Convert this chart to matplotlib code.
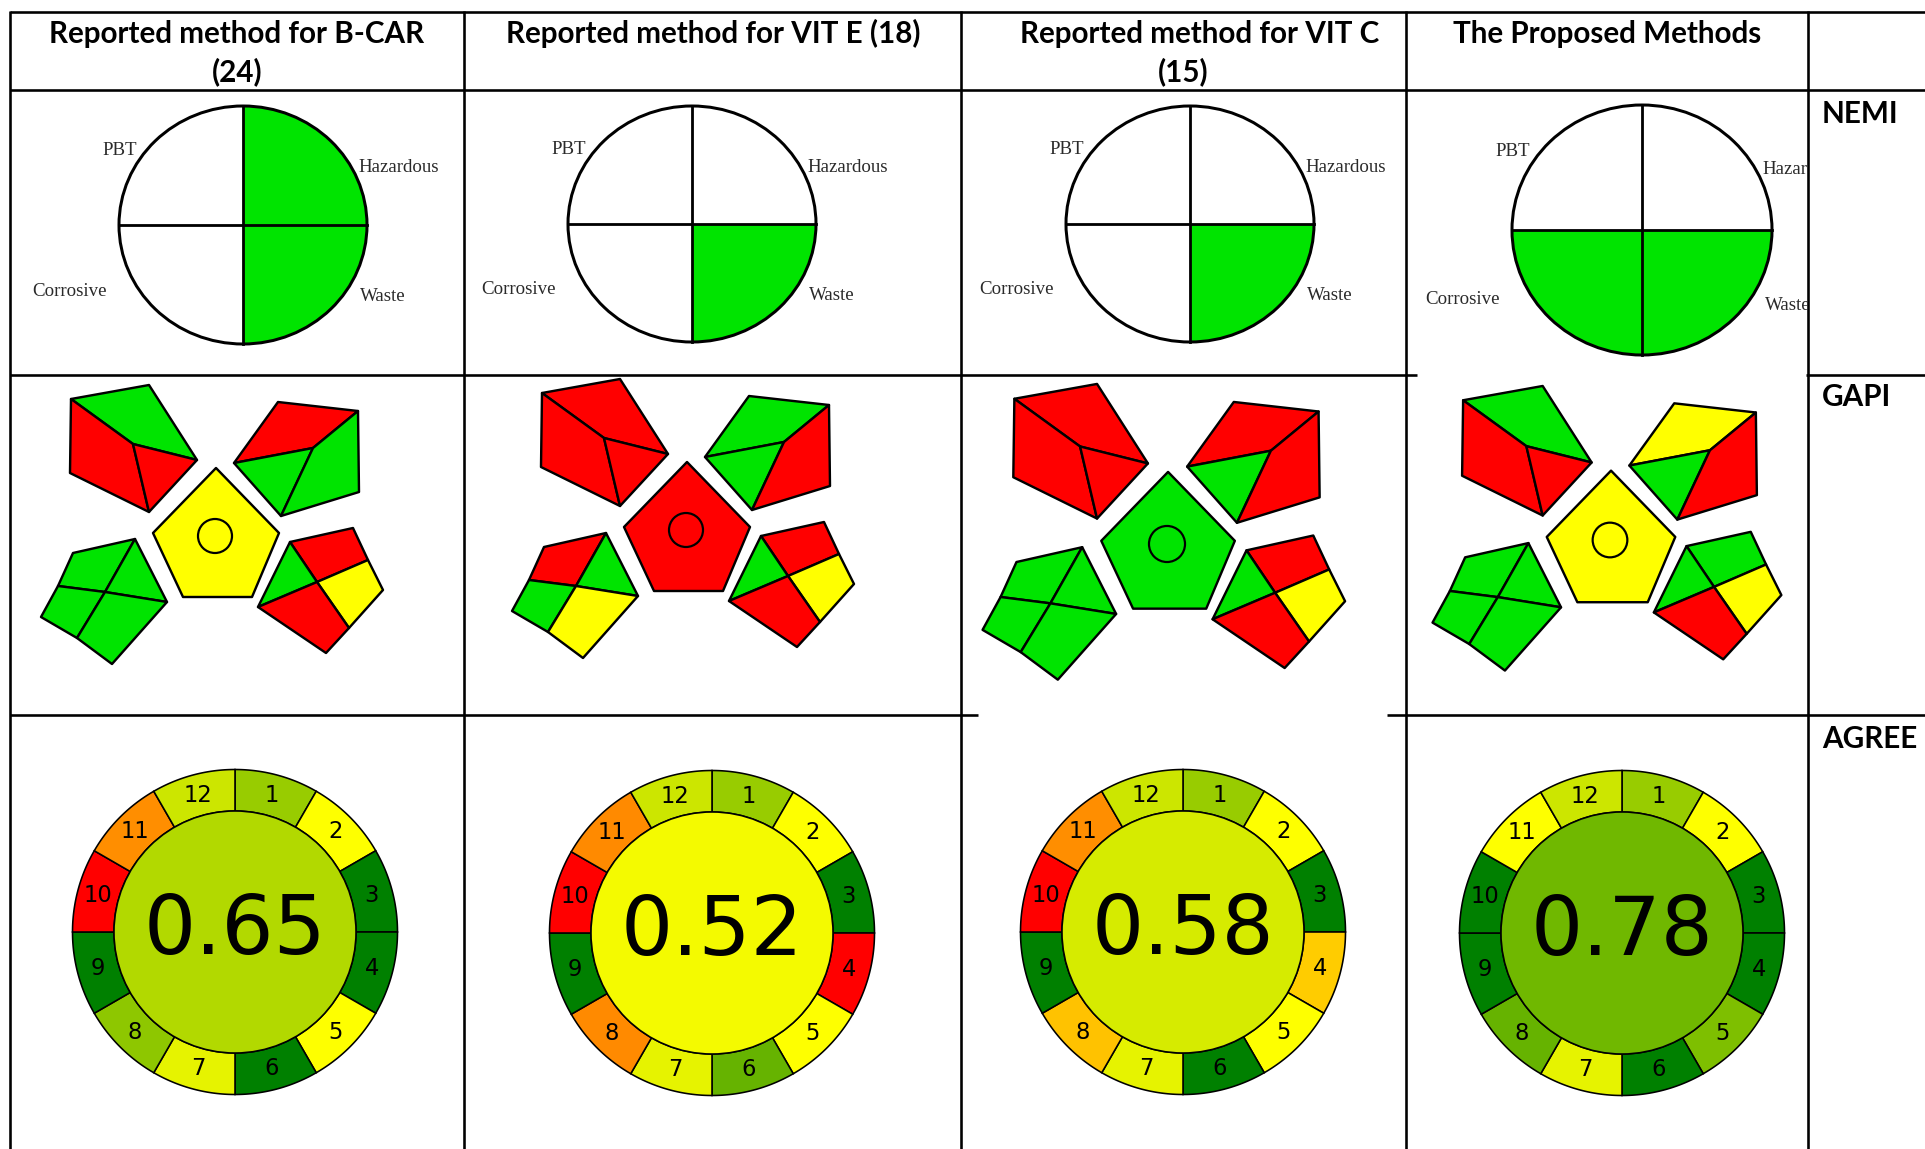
import numpy as np
import matplotlib
matplotlib.use("Agg")
import matplotlib.pyplot as plt
from matplotlib.patches import Polygon, Ellipse
from matplotlib.colors import LinearSegmentedColormap
from matplotlib.transforms import Bbox, TransformedBbox

# ---------------- data ----------------
header_line1 = ["Reported method for B-CAR", "Reported method for VIT E (18)",
                "Reported method for VIT C", "The Proposed Methods"]
header_line2 = ["(24)", "", "(15)", ""]
row_labels = ["NEMI", "GAPI", "AGREE"]

# NEMI quadrants: PBT (upper-left), Hazardous (upper-right), Corrosive (lower-left), Waste (lower-right)
nemi_quadrants = ["PBT", "Hazardous", "Corrosive", "Waste"]
nemi_green = [[0, 1, 0, 1],
              [0, 0, 0, 1],
              [0, 0, 0, 1],
              [0, 0, 1, 1]]

# GAPI field colours: G = green, Y = yellow, R = red
gapi_center = ["Y", "R", "G", "Y"]
gapi_upper_left = [["G", "R", "R"], ["R", "R", "R"], ["R", "R", "R"], ["G", "R", "R"]]
gapi_upper_right = [["R", "G", "G"], ["G", "G", "R"], ["R", "G", "R"], ["Y", "G", "R"]]
gapi_lower_left = [["G", "G", "G", "G"], ["R", "G", "G", "Y"], ["G", "G", "G", "G"], ["G", "G", "G", "G"]]
gapi_lower_right = [["R", "G", "Y", "R"], ["R", "G", "Y", "R"], ["R", "G", "Y", "R"], ["G", "G", "Y", "R"]]

# AGREE criterion scores (1..12) and overall scores
agree_scores = [
    [0.70, 0.50, 1.00, 1.00, 0.50, 1.00, 0.55, 0.72, 1.00, 0.00, 0.28, 0.60],
    [0.70, 0.50, 1.00, 0.00, 0.50, 0.80, 0.55, 0.27, 1.00, 0.00, 0.27, 0.60],
    [0.70, 0.50, 1.00, 0.40, 0.50, 1.00, 0.55, 0.38, 1.00, 0.00, 0.28, 0.60],
    [0.70, 0.50, 1.00, 1.00, 0.75, 1.00, 0.55, 0.80, 1.00, 1.00, 0.50, 0.60],
]
agree_totals = [0.65, 0.52, 0.58, 0.78]

# ---------------- styling ----------------
W, H = 1925, 1149
PX = 0.72  # points per pixel at dpi 100
GREEN = "#00e400"
GAPI_COL = {"G": "#00e400", "Y": "#ffff00", "R": "#ff0000"}
agree_cmap = LinearSegmentedColormap.from_list("agree", ["#ff0000", "#ffff00", "#008000"])
HEAD_FONT = dict(family="Lato", weight="bold", size=21.3)

fig = plt.figure(figsize=(W / 100, H / 100), dpi=100)
ax = fig.add_axes([0, 0, 1, 1])
ax.set_xlim(0, W)
ax.set_ylim(H, 0)
ax.axis("off")

col_edges = [10, 464, 961, 1406, 1808]
row_edges = [12, 90, 375, 715]

# ---------------- table grid ----------------
def hline(y, x0, x1, w=2.6):
    ax.plot([x0, x1], [y, y], color="black", lw=w * PX, solid_capstyle="butt")

def vline(x, y0, y1, w=2.6):
    ax.plot([x, x], [y0, y1], color="black", lw=w * PX, solid_capstyle="butt")

hline(12, 10, W)
hline(90, 10, W)
hline(375, 10, 1417)
hline(375, 1806, W)
hline(715, 10, 978)
hline(715, 1387, W)
for x in col_edges:
    vline(x, 11, H)

# ---------------- headers ----------------
head_x1 = [237, 713, 1200, 1607]
head_x2 = [237, 713, 1183, 1607]
for j in range(4):
    ax.text(head_x1[j], 43, header_line1[j], ha="center", va="baseline", **HEAD_FONT)
    if header_line2[j]:
        ax.text(head_x2[j], 81, header_line2[j], ha="center", va="baseline", **HEAD_FONT)

row_label_base = [123, 406, 748]
for lab, yb in zip(row_labels, row_label_base):
    ax.text(1822, yb, lab, ha="left", va="baseline", **HEAD_FONT)

# ---------------- NEMI ----------------
nemi_geom = [(243, 225, 124, 119), (692, 224, 124, 118), (1190, 224, 124, 118), (1642, 230, 130, 125)]
quad_span = [(90, 180), (0, 90), (180, 270), (270, 360)]
# label anchor offsets for a circle of rx=124, ry=118
lab_off = [(-123, -74, "center"), (115, -57, "left"), (-136, 66, "right"), (117, 71, "left")]

for j, (cx, cy, rx, ry) in enumerate(nemi_geom):
    for k, flag in enumerate(nemi_green[j]):
        if flag:
            a0, a1 = quad_span[k]
            t = np.radians(np.linspace(a0, a1, 80))
            pts = np.vstack([[cx, cy], np.column_stack([cx + rx * np.cos(t), cy - ry * np.sin(t)])])
            ax.add_patch(Polygon(pts, closed=True, fc=GREEN, ec="none", zorder=2))
    ax.add_patch(Ellipse((cx, cy), 2 * rx, 2 * ry, fill=False, ec="black", lw=3.0 * PX, zorder=3))
    ax.plot([cx, cx], [cy - ry, cy + ry], color="black", lw=2.8 * PX, zorder=3)
    ax.plot([cx - rx, cx + rx], [cy, cy], color="black", lw=2.8 * PX, zorder=3)
    clip = TransformedBbox(Bbox([[col_edges[j], row_edges[1]], [col_edges[j + 1], row_edges[2]]]), ax.transData)
    for k, name in enumerate(nemi_quadrants):
        dx, dy, ha = lab_off[k]
        t = ax.text(cx + dx * rx / 124, cy + dy * ry / 118, name, ha=ha, va="center",
                    family="Liberation Serif", size=13.6, color="#2a2a2a", zorder=4)
        t.set_clip_box(clip)
        t.set_clip_on(True)

# ---------------- GAPI ----------------
ref = np.array([215.0, 536.0])
centre_pent = [(216, 468), (279, 533), (252, 597), (183, 597), (153, 533)]
# upper-left pentagon
UL = dict(A=(71, 399), B=(149, 385), C=(197, 460), D=(149, 512), E=(70, 473), I=(133, 444))
UL_sec = [["A", "B", "C", "I"], ["A", "I", "D", "E"], ["I", "C", "D"]]
# upper-right pentagon
UR = dict(A=(278, 402), B=(358, 411), C=(359, 492), D=(281, 516), E=(234, 463), I=(313, 448))
UR_sec = [["E", "A", "B", "I"], ["E", "I", "D"], ["I", "B", "C", "D"]]
# lower-left pentagon
LL = dict(A=(73, 553), B=(135, 539), C=(167, 602), D=(112, 664), E=(41, 617),
          P=(58, 586), Q=(77, 638), X=(105, 592))
LL_sec = [["A", "B", "X", "P"], ["B", "C", "X"], ["P", "X", "Q", "E"], ["X", "C", "D", "Q"]]
# lower-right pentagon
LR = dict(A=(290, 542), B=(353, 528), C=(383, 590), D=(326, 653), E=(258, 607),
          R=(368, 560), S=(349, 628), X=(317, 582))
LR_sec = [["A", "B", "R", "X"], ["A", "X", "E"], ["X", "R", "C", "S"], ["E", "X", "S", "D"]]

gapi_anchor = [(215, 536, 1.0), (686, 530, 1.0), (1167, 544, 1.06), (1610, 540, 1.02)]


def place(p, ox, oy, s):
    p = np.asarray(p, float)
    return (p - ref) * s + np.array([ox, oy])


def draw_sections(pts, secs, cols, ox, oy, s):
    for sec, c in zip(secs, cols):
        poly = np.array([place(pts[k], ox, oy, s) for k in sec])
        ax.add_patch(Polygon(poly, closed=True, fc=GAPI_COL[c], ec="black",
                             lw=2.4 * PX, joinstyle="round", zorder=3))


for j, (ox, oy, s) in enumerate(gapi_anchor):
    poly = np.array([place(p, ox, oy, s) for p in centre_pent])
    ax.add_patch(Polygon(poly, closed=True, fc=GAPI_COL[gapi_center[j]], ec="black",
                         lw=2.4 * PX, joinstyle="round", zorder=3))
    c = place(ref, ox, oy, s)
    ax.add_patch(Ellipse(c, 34 * s, 34 * s, fill=False, ec="black", lw=2.2 * PX, zorder=4))
    draw_sections(UL, UL_sec, gapi_upper_left[j], ox, oy, s)
    draw_sections(UR, UR_sec, gapi_upper_right[j], ox, oy, s)
    draw_sections(LL, LL_sec, gapi_lower_left[j], ox, oy, s)
    draw_sections(LR, LR_sec, gapi_lower_right[j], ox, oy, s)

# ---------------- AGREE ----------------
agree_centres = [(235, 932), (712, 933), (1183, 932), (1622, 933)]
R_OUT, R_IN = 162.5, 121.0


def ring_pts(cx, cy, r, phi):
    return np.column_stack([cx + r * np.sin(phi), cy - r * np.cos(phi)])


for j, (cx, cy) in enumerate(agree_centres):
    for i, sc in enumerate(agree_scores[j]):
        phi = np.radians(np.linspace(30 * i, 30 * (i + 1), 40))
        pts = np.vstack([ring_pts(cx, cy, R_OUT, phi), ring_pts(cx, cy, R_IN, phi[::-1])])
        ax.add_patch(Polygon(pts, closed=True, fc=agree_cmap(sc), ec="black", lw=1.6 * PX, zorder=3))
        mid = np.radians(30 * i + 15)
        rm = (R_OUT + R_IN) / 2
        ax.text(cx + rm * np.sin(mid), cy - rm * np.cos(mid), str(i + 1), ha="center", va="center",
                family="DejaVu Sans", size=16.3, zorder=5)
    ax.add_patch(Ellipse((cx, cy), 2 * R_IN, 2 * R_IN, fc=agree_cmap(agree_totals[j]), ec="black",
                         lw=1.6 * PX, zorder=4))
    ax.text(cx, cy + 22, f"{agree_totals[j]:.2f}", ha="center", va="baseline",
            family="DejaVu Sans", size=59, zorder=5)

fig.savefig("out.png", dpi=100, facecolor="white")
